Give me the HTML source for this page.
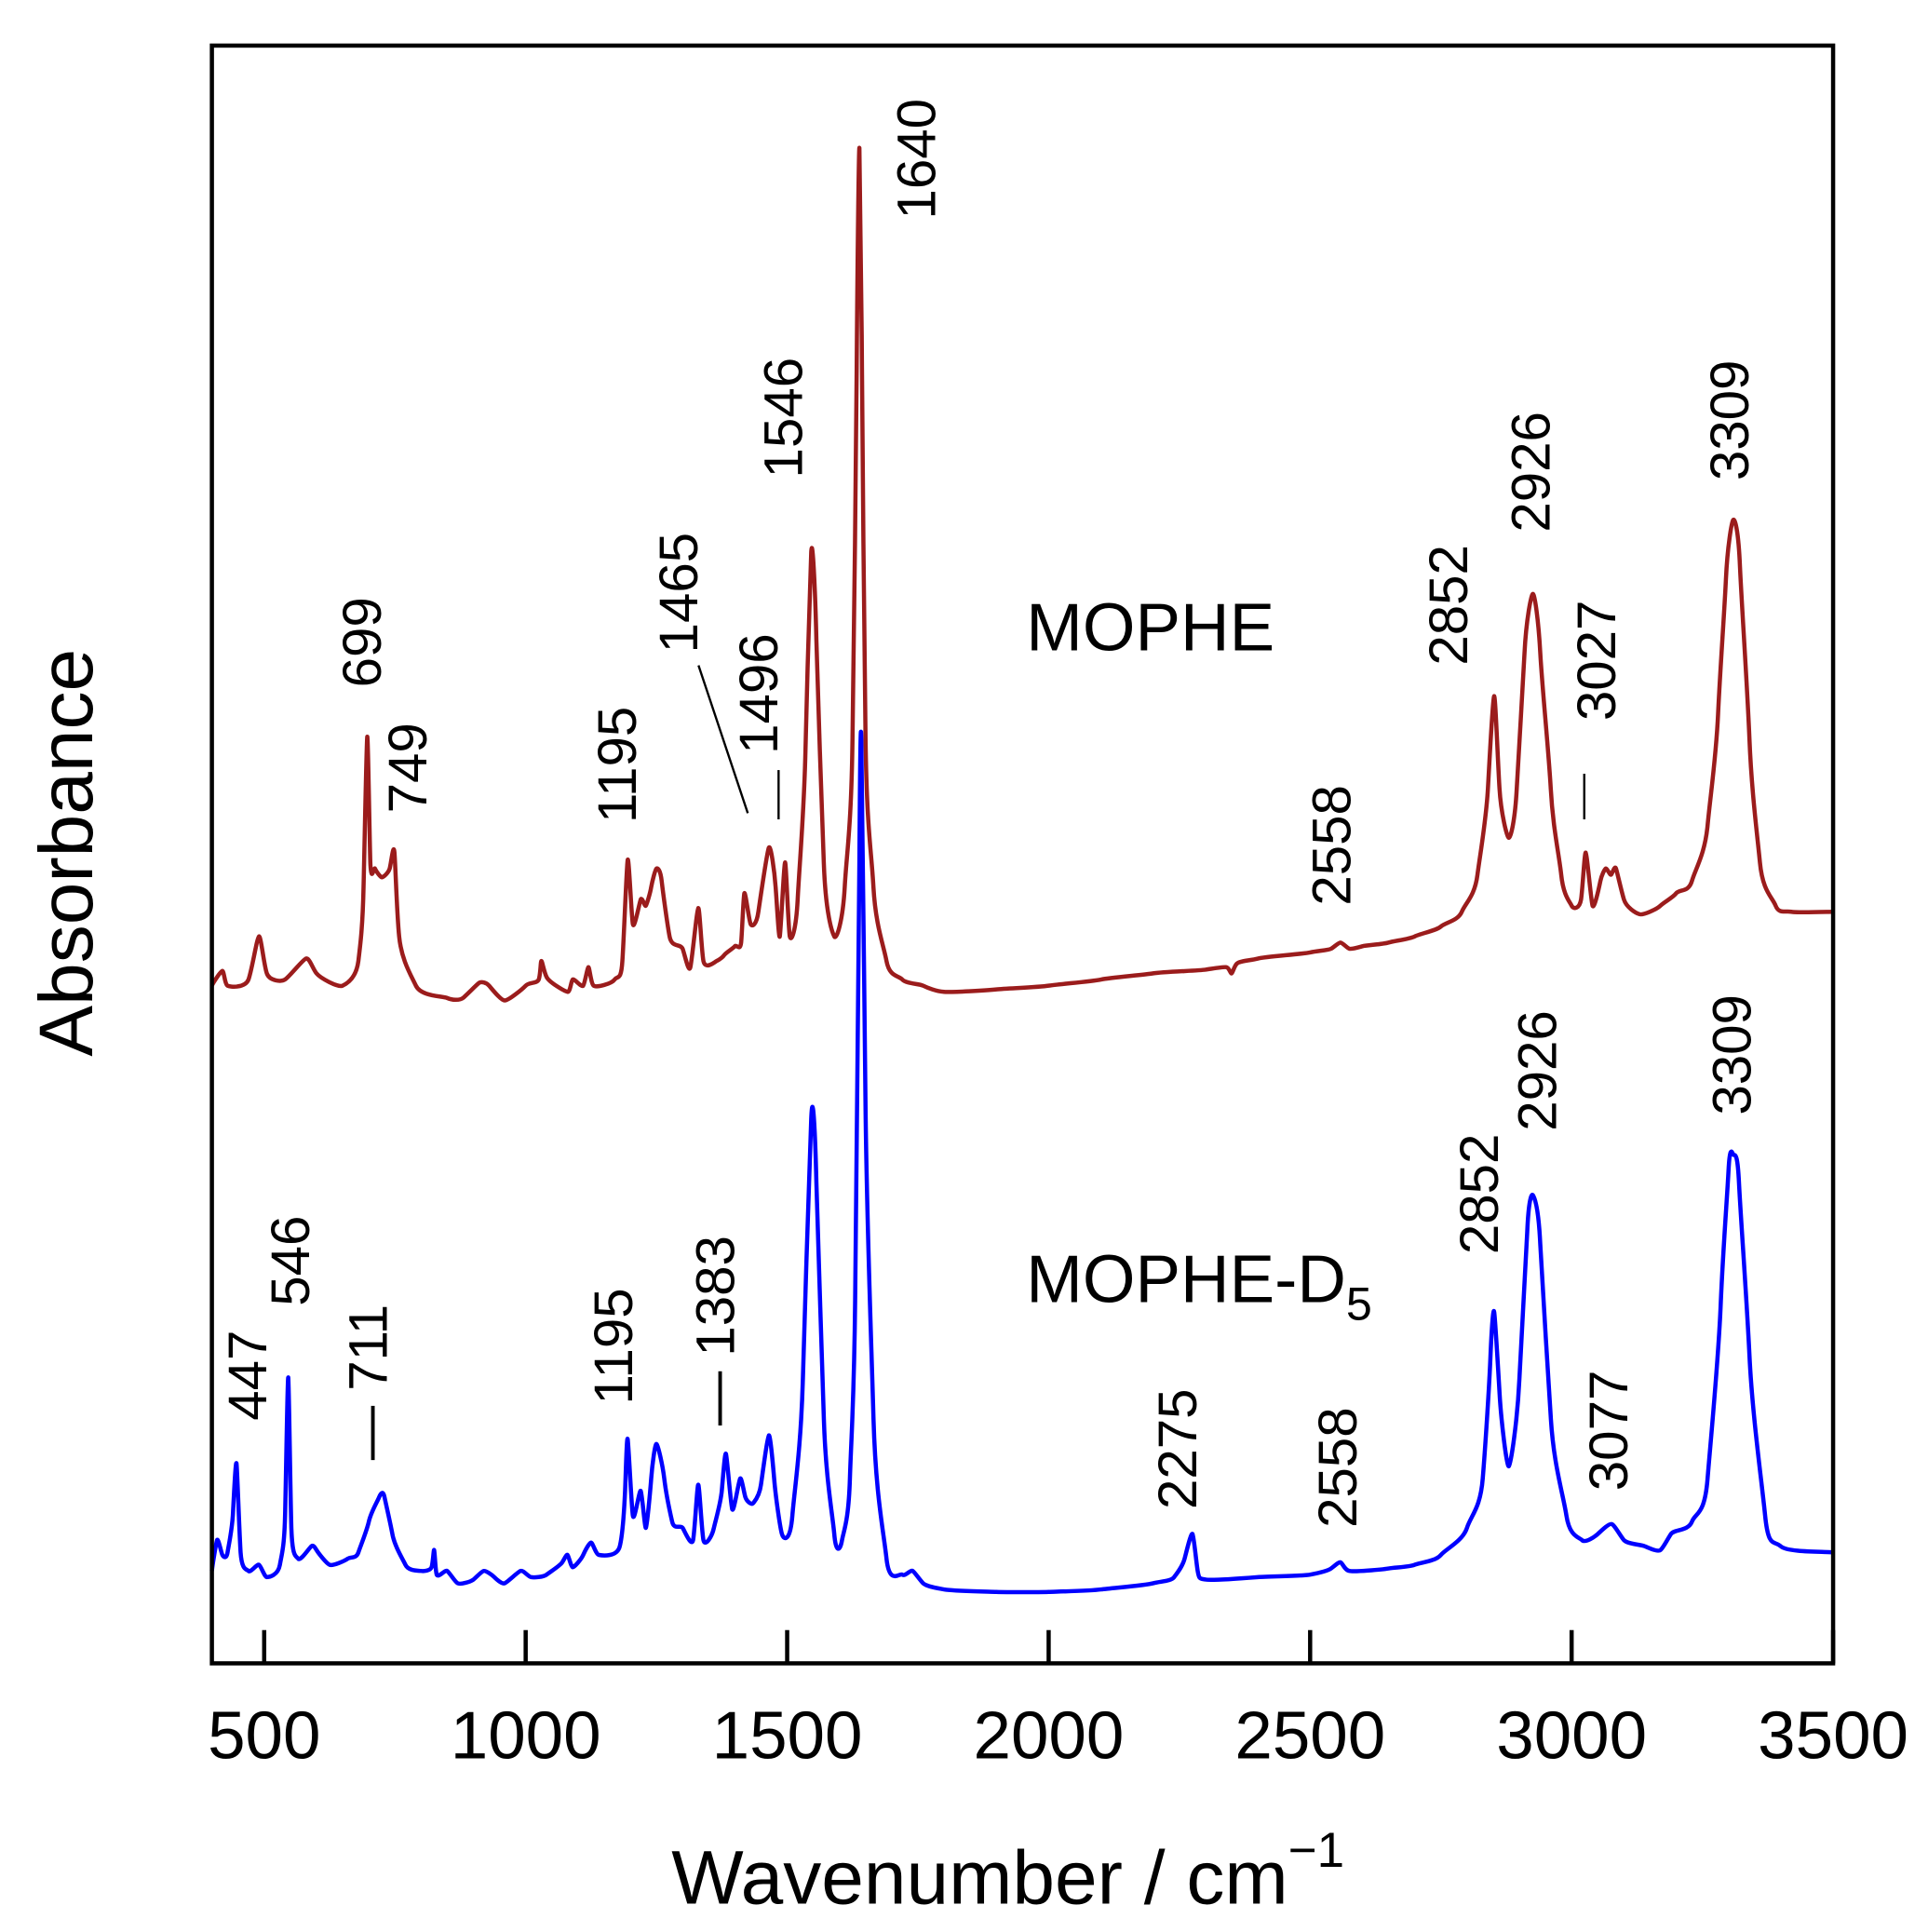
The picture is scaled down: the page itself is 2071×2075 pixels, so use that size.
<!DOCTYPE html>
<html><head><meta charset="utf-8"><style>
html,body{margin:0;padding:0;background:#fff}
svg{display:block}
text{font-family:"Liberation Sans",Arial,sans-serif;fill:#000}
</style></head><body>
<svg id="chart" width="2071" height="2075" viewBox="0 0 2071 2075" xmlns="http://www.w3.org/2000/svg">
<g id="root" transform="scale(1.3233)"></g>
</svg>
<script>
// x-axis ticks
const xTicks = [500, 1000, 1500, 2000, 2500, 3000, 3500];
const xTickLabels = ["500","1000","1500","2000","2500","3000","3500"];
// MOPHE spectrum: wavenumbers and absorbance (arbitrary units)
const redWn = [400,420,430,470,490,505,540,580,600,650,680,690,697,703,712,725,740,749,758,790,850,880,910,930,960,1000,1025,1030,1040,1080,1090,1110,1120,1130,1170,1185,1195,1205,1220,1230,1240,1250,1260,1275,1300,1315,1330,1340,1365,1380,1400,1412,1418,1430,1445,1465,1478,1486,1496,1505,1520,1535,1546,1556,1570,1590,1610,1625,1633,1638,1643,1650,1665,1690,1720,1760,1800,1900,2000,2100,2200,2300,2340,2350,2360,2400,2500,2540,2558,2575,2600,2650,2700,2750,2790,2820,2840,2852,2862,2880,2895,2910,2926,2940,2960,2980,3000,3018,3027,3040,3055,3065,3075,3085,3100,3130,3170,3200,3230,3260,3280,3295,3309,3322,3340,3360,3390,3420,3500];
const redAbs = [0.550,0.562,0.550,0.555,0.590,0.560,0.555,0.572,0.560,0.550,0.570,0.630,0.752,0.650,0.645,0.638,0.645,0.658,0.590,0.550,0.540,0.540,0.552,0.550,0.538,0.550,0.555,0.570,0.557,0.545,0.555,0.550,0.565,0.550,0.555,0.570,0.652,0.600,0.620,0.615,0.630,0.645,0.635,0.590,0.580,0.565,0.613,0.570,0.570,0.575,0.582,0.585,0.625,0.600,0.610,0.662,0.630,0.590,0.650,0.590,0.620,0.740,0.902,0.830,0.650,0.590,0.630,0.750,1.050,1.230,1.050,0.750,0.630,0.570,0.555,0.550,0.545,0.547,0.550,0.555,0.560,0.563,0.565,0.560,0.568,0.572,0.577,0.580,0.585,0.580,0.582,0.585,0.590,0.598,0.610,0.640,0.710,0.785,0.710,0.670,0.710,0.820,0.868,0.820,0.710,0.640,0.615,0.620,0.658,0.615,0.635,0.645,0.640,0.645,0.620,0.608,0.615,0.625,0.635,0.680,0.770,0.880,0.928,0.890,0.750,0.650,0.615,0.610,0.610];
// MOPHE-D5 spectrum
const blueWn = [400,410,420,430,440,447,455,470,490,505,530,540,546,552,565,590,600,625,660,680,700,720,730,745,770,800,820,825,830,850,870,900,920,940,960,990,1010,1040,1070,1080,1090,1110,1125,1140,1180,1190,1195,1205,1220,1230,1240,1250,1265,1280,1300,1320,1330,1340,1360,1375,1383,1395,1410,1420,1435,1450,1465,1475,1490,1510,1530,1546,1556,1570,1590,1605,1620,1630,1638,1642,1650,1665,1690,1720,1740,1760,1800,1900,2000,2100,2200,2240,2260,2275,2285,2300,2400,2500,2540,2558,2575,2650,2700,2750,2800,2830,2845,2852,2862,2880,2900,2915,2926,2940,2960,2990,3020,3050,3077,3100,3140,3170,3190,3230,3260,3285,3300,3309,3320,3340,3370,3400,3500];
const blueAbs = [0.075,0.100,0.088,0.090,0.120,0.162,0.090,0.075,0.080,0.070,0.080,0.120,0.232,0.110,0.085,0.095,0.092,0.080,0.085,0.090,0.115,0.135,0.135,0.105,0.080,0.075,0.078,0.092,0.072,0.075,0.065,0.068,0.075,0.070,0.065,0.075,0.070,0.072,0.082,0.088,0.078,0.088,0.098,0.088,0.095,0.140,0.182,0.120,0.140,0.110,0.150,0.178,0.150,0.115,0.110,0.100,0.145,0.100,0.110,0.140,0.170,0.125,0.150,0.135,0.130,0.145,0.185,0.150,0.105,0.120,0.230,0.442,0.390,0.200,0.105,0.100,0.150,0.300,0.650,0.745,0.450,0.200,0.085,0.072,0.075,0.065,0.060,0.058,0.058,0.060,0.065,0.070,0.085,0.105,0.075,0.068,0.070,0.072,0.077,0.082,0.075,0.077,0.080,0.088,0.110,0.150,0.250,0.285,0.220,0.160,0.230,0.350,0.380,0.340,0.200,0.120,0.100,0.105,0.113,0.100,0.095,0.092,0.105,0.115,0.150,0.290,0.400,0.413,0.390,0.250,0.120,0.095,0.090];
// peak annotation texts
const redLabels = ["699","749","1195","1465","1496","1546","1640","2558","2852","2926","3027","3309"];
const blueLabels = ["447","546","— 711","1195","— 1383","2275","2558","2852","2926","3077","3309"];
</script>
<script>
const NS="http://www.w3.org/2000/svg";
const root=document.getElementById('root');
const L=172,R=1488,T=37,B=1350,X0=400,X1=3500;
const xS=w=>L+(w-X0)*(R-L)/(X1-X0);
const yS=a=>B-a*1000;
function mk(tag,attrs,parent){const e=document.createElementNS(NS,tag);for(const k in attrs)e.setAttribute(k,attrs[k]);(parent||root).appendChild(e);return e;}
function series(wn,ab,color,name){
  const P=wn.map((w,i)=>[xS(w),yS(ab[i])]);
  let d='M'+P[0][0].toFixed(1)+','+P[0][1].toFixed(1);
  const t=0.35;
  for(let i=0;i<P.length-1;i++){
    const p0=P[Math.max(0,i-1)],p1=P[i],p2=P[i+1],p3=P[Math.min(P.length-1,i+2)];
    const c1=[p1[0]+(p2[0]-p0[0])*t/2*0.6,p1[1]+(p2[1]-p0[1])*t/2];
    const c2=[p2[0]-(p3[0]-p1[0])*t/2*0.6,p2[1]-(p3[1]-p1[1])*t/2];
    c1[0]=Math.min(Math.max(c1[0],p1[0]),p2[0]);c2[0]=Math.min(Math.max(c2[0],p1[0]),p2[0]);
    d+='C'+c1[0].toFixed(1)+','+c1[1].toFixed(1)+' '+c2[0].toFixed(1)+','+c2[1].toFixed(1)+' '+p2[0].toFixed(1)+','+p2[1].toFixed(1);
  }
  const p=mk('path',{d:d,fill:'none',stroke:color,'stroke-width':3.4,'stroke-linejoin':'round'});
  
  
}
series(redWn,redAbs,'#9b1c1c','mophe-spectrum');
series(blueWn,blueAbs,'#0000ff','mophe-d5-spectrum');
const fr=mk('rect',{x:L,y:T,width:R-L,height:B-T,fill:'none',stroke:'#000','stroke-width':3.4});


xTicks.forEach((t,i)=>{
  const ln=mk('line',{x1:xS(t),x2:xS(t),y1:B,y2:B-27,stroke:'#000','stroke-width':3.4});
  
  
  const tx=mk('text',{x:xS(t),y:1427,'text-anchor':'middle','font-size':55});
  tx.textContent=xTickLabels[i];
  
  
});
const redPos=[[312,558],[349,660],[519,668],[569,530],[634,612],[654,388],[762,178],[1099,735],[1194,540],[1261,432],[1314,585],[1422,390]];
const bluePos=[[219,1153],[254,1060],[317,1185],[516,1140],[599,1157],[974,1225],[1104,1240],[1219,1018],[1266,918],[1324,1210],[1424,905]];
function rlab(txt,p,name){
  const t=mk('text',{x:0,y:0,'font-size':44,transform:`translate(${p[0]-3},${p[1]}) rotate(-90)`});
  t.textContent=txt;
  
  
}
redLabels.forEach((s,i)=>rlab(s,redPos[i],'mophe-peak-label'));
blueLabels.forEach((s,i)=>rlab(s,bluePos[i],'mophe-d5-peak-label'));
[[567,540,607,660],[632,625,632,665],[1286,628,1286,665]].forEach(l=>{
  const ln=mk('line',{x1:l[0],y1:l[1],x2:l[2],y2:l[3],stroke:'#000','stroke-width':1.8});
  
  
});
const m1=mk('text',{x:833,y:528,'font-size':55});m1.textContent='MOPHE';


const m2=mk('text',{x:833,y:1057,'font-size':55});
m2.innerHTML='MOPHE-D<tspan font-size="38" dy="14">5</tspan>';


const xt=mk('text',{x:545,y:1545,'font-size':62});
xt.innerHTML='Wavenumber / cm<tspan font-size="40" dy="-30">−1</tspan>';


const yt=mk('text',{x:0,y:0,'font-size':62,'text-anchor':'middle',transform:'translate(75,692) rotate(-90)'});
yt.textContent='Absorbance';


</script>
</body></html>
